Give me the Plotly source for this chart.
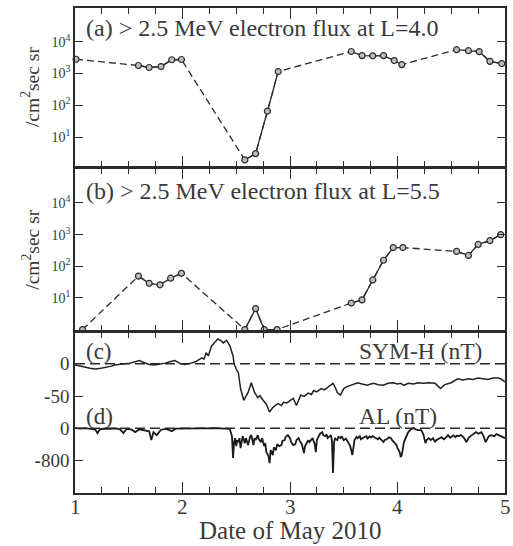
import plotly.graph_objects as go

# ---------------- data ----------------
# Panel (a): > 2.5 MeV electron flux at L=4.0  (/cm^2 sec sr)
flux_a_day = [1.01, 1.59, 1.69, 1.80, 1.90, 1.99, 2.58, 2.68, 2.79, 2.89,
              3.57, 3.67, 3.77, 3.87, 3.97, 4.04, 4.55, 4.66, 4.76, 4.86, 4.97]
flux_a_val = [2800, 1780, 1540, 1650, 2700, 2750, 1.9, 3.0, 65, 1150,
              4900, 3650, 3600, 3650, 2550, 1900, 5600, 5200, 4850, 2400, 2050]

# Panel (b): > 2.5 MeV electron flux at L=5.5
flux_b_day = [1.07, 1.59, 1.69, 1.79, 1.89, 1.99, 2.58, 2.68, 2.76, 2.88,
              3.57, 3.67, 3.77, 3.87, 3.96, 4.05, 4.55, 4.66, 4.75, 4.86, 4.96]
flux_b_val = [1.0, 49, 29, 26, 42, 60, 1.0, 4.6, 1.0, 1.0,
              6.9, 8.7, 37, 155, 390, 390, 295, 220, 490, 650, 1000]

# Panel (c): SYM-H (nT)  (day, value)
symh_obs = [
    (1.00, -2), (1.04, -3), (1.09, -5), (1.14, -7), (1.19, -8), (1.24, -7), (1.28, -6),
    (1.33, -4), (1.37, -2), (1.42, -1), (1.46, 0), (1.51, 1), (1.56, 3), (1.60, 5),
    (1.64, 2), (1.69, -1), (1.74, -2), (1.79, -1), (1.84, 1), (1.88, 3), (1.93, 5),
    (1.97, 1), (2.02, -1), (2.08, 1), (2.12, 3), (2.15, 6), (2.18, 9), (2.20, 7),
    (2.22, 17), (2.24, 12), (2.27, 27), (2.30, 33), (2.33, 38), (2.36, 35), (2.38, 32),
    (2.41, 36), (2.44, 28), (2.47, 12), (2.48, 0), (2.50, -8), (2.52, -14), (2.54, -38),
    (2.57, -56), (2.59, -50), (2.61, -44), (2.64, -29), (2.67, -44), (2.70, -52),
    (2.72, -49), (2.75, -56), (2.78, -62), (2.81, -74), (2.84, -67), (2.87, -63),
    (2.89, -61), (2.92, -64), (2.94, -59), (2.97, -60), (3.01, -56), (3.03, -53),
    (3.06, -64), (3.08, -55), (3.10, -48), (3.13, -50), (3.17, -45), (3.20, -47),
    (3.22, -41), (3.25, -43), (3.29, -38), (3.32, -40), (3.35, -36), (3.38, -33),
    (3.40, -30), (3.42, -36), (3.44, -44), (3.47, -48), (3.50, -38), (3.53, -35),
    (3.56, -33), (3.60, -31), (3.63, -29), (3.67, -31), (3.72, -33), (3.75, -31),
    (3.78, -30), (3.82, -32), (3.87, -33), (3.91, -30), (3.96, -29), (4.00, -31),
    (4.03, -30), (4.06, -33), (4.10, -30), (4.15, -31), (4.19, -29), (4.24, -30),
    (4.29, -29), (4.35, -30), (4.38, -34), (4.40, -38), (4.44, -32), (4.50, -29),
    (4.56, -23), (4.61, -25), (4.66, -23), (4.70, -24), (4.75, -22), (4.80, -23),
    (4.84, -24), (4.89, -22), (4.94, -22), (4.97, -24), (5.00, -28),
]

# Panel (d): AL (nT)  (day, value)
al_obs = [
    (1.00, 0), (1.05, -10), (1.10, 0), (1.15, -20), (1.19, -40), (1.21, -125), (1.23, -30),
    (1.28, -10), (1.33, -20), (1.38, -5), (1.42, -30), (1.45, -125), (1.48, -20),
    (1.53, -40), (1.56, -100), (1.60, -30), (1.65, -60), (1.69, -80), (1.71, -300),
    (1.73, -100), (1.76, -175), (1.80, -40), (1.85, -20), (1.90, -75), (1.94, -10),
    (2.00, -5), (2.10, 0), (2.20, -5), (2.30, 0), (2.40, -5), (2.44, -20), (2.46, -200),
    (2.47, -750), (2.48, -350), (2.49, -250), (2.50, -450), (2.51, -300), (2.52, -350),
    (2.53, -250), (2.54, -500), (2.55, -300), (2.56, -200), (2.58, -380), (2.59, -250),
    (2.61, -425), (2.62, -300), (2.63, -200), (2.64, -175), (2.65, -300), (2.66, -425),
    (2.67, -250), (2.68, -300), (2.70, -175), (2.71, -280), (2.73, -350), (2.74, -250),
    (2.76, -450), (2.77, -380), (2.78, -600), (2.80, -700), (2.81, -875), (2.82, -550),
    (2.83, -600), (2.84, -675), (2.85, -480), (2.87, -550), (2.88, -400), (2.90, -450),
    (2.92, -425), (2.93, -320), (2.95, -300), (2.96, -220), (2.98, -175), (3.00, -250),
    (3.01, -350), (3.03, -425), (3.05, -400), (3.06, -300), (3.08, -250), (3.09, -320),
    (3.11, -400), (3.13, -625), (3.14, -450), (3.15, -400), (3.17, -300), (3.18, -350),
    (3.20, -280), (3.21, -250), (3.23, -400), (3.24, -600), (3.25, -300), (3.27, -175),
    (3.28, -140), (3.30, -100), (3.31, -180), (3.33, -200), (3.34, -150), (3.35, -250),
    (3.37, -200), (3.38, -175), (3.39, -300), (3.40, -1125), (3.41, -350), (3.42, -260),
    (3.44, -300), (3.45, -220), (3.47, -250), (3.48, -200), (3.50, -300), (3.52, -260),
    (3.54, -350), (3.56, -450), (3.58, -675), (3.59, -400), (3.60, -300), (3.62, -220),
    (3.63, -250), (3.65, -200), (3.66, -280), (3.68, -240), (3.69, -225), (3.71, -200),
    (3.72, -260), (3.74, -210), (3.75, -230), (3.77, -200), (3.78, -225), (3.80, -250),
    (3.82, -280), (3.83, -240), (3.85, -300), (3.87, -350), (3.88, -300), (3.90, -280),
    (3.92, -230), (3.94, -250), (3.95, -300), (3.97, -350), (3.99, -420), (4.00, -500),
    (4.02, -600), (4.03, -725), (4.04, -675), (4.06, -350), (4.08, -200), (4.10, -100),
    (4.13, -20), (4.15, 0), (4.17, -30), (4.19, -50), (4.22, -50), (4.24, -150),
    (4.26, -375), (4.27, -300), (4.29, -250), (4.31, -300), (4.33, -250), (4.35, -350),
    (4.36, -300), (4.38, -280), (4.40, -240), (4.41, -225), (4.43, -280), (4.44, -260),
    (4.46, -200), (4.47, -175), (4.49, -240), (4.50, -220), (4.52, -180), (4.54, -225),
    (4.55, -190), (4.57, -200), (4.59, -175), (4.61, -220), (4.62, -250), (4.64, -350),
    (4.66, -250), (4.68, -200), (4.69, -175), (4.71, -150), (4.73, -100), (4.75, -140),
    (4.76, -120), (4.78, -100), (4.80, -200), (4.82, -350), (4.84, -250), (4.85, -200),
    (4.87, -175), (4.90, -200), (4.92, -150), (4.94, -175), (4.97, -220), (5.00, -250),
]

x_tick_vals = [1, 2, 3, 4, 5]
x_tick_text = ["1", "2", "3", "4", "5"]
log_tick_vals = [10, 100, 1000, 10000]
log_tick_text = ["10<sup>1</sup>", "10<sup>2</sup>", "10<sup>3</sup>", "10<sup>4</sup>"]
symh_tick_vals = [0, -50]
symh_tick_text = ["0", "<b>-</b>50"]
al_tick_vals = [0, -800]
al_tick_text = ["0", "<b>-</b>800"]

# ---------------- styling ----------------
FONT = "Liberation Serif, Times New Roman, serif"
INK = "#2b2b2b"
TXT = "#3a3a3a"
LW = 1.6

W, H = 513, 546
ML, MR, MT, MB = 75, 6, 7, 53
PW, PH = W - ML - MR, H - MT - MB


def py(p):
    """pixel row -> paper y"""
    return (H - MB - p) / PH


def px(p):
    """pixel column -> paper x"""
    return (p - ML) / PW


def solid_segments(days, vals, gap=0.3):
    xs, ys = [], []
    for i, (d, v) in enumerate(zip(days, vals)):
        if i > 0 and d - days[i - 1] > gap:
            xs.append(None)
            ys.append(None)
        xs.append(d)
        ys.append(v)
    return xs, ys


fig = go.Figure()

for days, vals, xa, ya in [(flux_a_day, flux_a_val, "x", "y"),
                           (flux_b_day, flux_b_val, "x2", "y2")]:
    fig.add_trace(go.Scatter(x=days, y=vals, mode="lines", xaxis=xa, yaxis=ya,
                             line=dict(color=INK, width=1.3, dash="7px,4px"),
                             cliponaxis=False, showlegend=False, hoverinfo="skip"))
    sx, sy = solid_segments(days, vals)
    fig.add_trace(go.Scatter(x=sx, y=sy, mode="lines", xaxis=xa, yaxis=ya,
                             line=dict(color=INK, width=1.3), connectgaps=False,
                             cliponaxis=False, showlegend=False, hoverinfo="skip"))
    fig.add_trace(go.Scatter(x=days, y=vals, mode="markers", xaxis=xa, yaxis=ya,
                             marker=dict(symbol="circle", size=6, color="#bdbdbd",
                                         line=dict(color=INK, width=1.2)),
                             cliponaxis=False, showlegend=False))

fig.add_trace(go.Scatter(x=[d for d, _ in symh_obs], y=[v for _, v in symh_obs],
                         mode="lines", xaxis="x3", yaxis="y3",
                         line=dict(color="#222222", width=1.5), showlegend=False))
fig.add_trace(go.Scatter(x=[d for d, _ in al_obs], y=[v for _, v in al_obs],
                         mode="lines", xaxis="x4", yaxis="y4",
                         line=dict(color="#1a1a1a", width=1.8), showlegend=False))

common_x = dict(range=[1, 5], showgrid=False, zeroline=False, showline=True,
                linecolor=INK, linewidth=LW, ticks="inside", ticklen=11, tickwidth=1.4,
                tickcolor=INK, tickvals=x_tick_vals, ticktext=x_tick_text,
                showticklabels=False,
                minor=dict(ticks="inside", ticklen=6, tickwidth=1.4, tickcolor=INK,
                           dtick=0.25, tick0=1, showgrid=False))
common_y = dict(showgrid=False, zeroline=False, showline=True, linecolor=INK,
                linewidth=LW, ticks="inside", ticklen=8, tickwidth=1.4, tickcolor=INK,
                mirror="ticks", tickfont=dict(family=FONT, size=14, color=TXT))

# axis lines are drawn outside the plot area, so leave a line-width gap
# between stacked panels to make the shared borders coincide
half = LW / 2
dom_a = [py(167 - half), 1.0]
dom_b = [py(331 - half), py(167 + half)]
dom_c = [py(416), py(331 + half)]
dom_d = [0.0, py(416)]

fig.update_layout(
    width=W, height=H,
    margin=dict(l=ML, r=MR, t=MT, b=MB),
    paper_bgcolor="white", plot_bgcolor="white",
    font=dict(family=FONT, color=TXT),
    xaxis=dict(common_x, anchor="y", mirror="ticks"),
    xaxis2=dict(common_x, anchor="y2", mirror="ticks"),
    xaxis3=dict(common_x, anchor="y3", side="top", mirror=False),
    xaxis4=dict(common_x, anchor="y4", side="bottom", mirror=False),
    yaxis=dict(common_y, type="log", range=[0.06, 5.06], domain=dom_a, anchor="x",
               tickvals=log_tick_vals, ticktext=log_tick_text),
    yaxis2=dict(common_y, type="log", range=[-0.03, 5.09], domain=dom_b, anchor="x2",
                tickvals=log_tick_vals, ticktext=log_tick_text),
    yaxis3=dict(common_y, range=[-80.3, 48.5], domain=dom_c, anchor="x3",
                tickvals=symh_tick_vals, ticktext=symh_tick_text,
                tickfont=dict(family=FONT, size=19, color=TXT)),
    yaxis4=dict(common_y, range=[-1625, 300], domain=dom_d, anchor="x4",
                tickvals=al_tick_vals, ticktext=al_tick_text,
                tickfont=dict(family=FONT, size=19, color=TXT)),
)

# dashed zero lines
for xa, ya in [("x3", "y3"), ("x4", "y4")]:
    fig.add_shape(type="line", xref=f"{xa} domain", yref=ya, x0=0, x1=1, y0=0, y1=0,
                  line=dict(color=INK, width=1.5, dash="10px,5px"), layer="below")

# x tick labels of the bottom axis, placed on the library's x scale
for v, t in zip(x_tick_vals, x_tick_text):
    fig.add_annotation(text=t, x=v, xref="x4", y=py(507), yref="paper",
                       xanchor="center", yanchor="middle", showarrow=False,
                       font=dict(family=FONT, size=21, color=TXT))

ann = [
    ("(a) &gt; 2.5 MeV electron flux at L=4.0", px(84), py(27), "left", 24),
    ("(b) &gt; 2.5 MeV electron flux at L=5.5", px(84), py(190), "left", 24),
    ("(c)", px(84), py(351), "left", 23),
    ("(d)", px(84), py(416), "left", 23),
    ("SYM-H (nT)", px(358), py(351), "left", 23.5),
    ("AL (nT)", px(358), py(416), "left", 23.5),
    ("Date of May 2010", 0.5 * (px(75) + px(507)), py(531), "center", 25),
]
for text, x, y, xanchor, size in ann:
    fig.add_annotation(text=text, x=x, y=y, xref="paper", yref="paper",
                       xanchor=xanchor, yanchor="middle", showarrow=False,
                       font=dict(family=FONT, size=size, color=TXT))

for yc in (86, 249):
    fig.add_annotation(text="/cm<sup>2</sup>sec sr", x=px(30), y=py(yc),
                       xref="paper", yref="paper", xanchor="center", yanchor="middle",
                       textangle=-90, showarrow=False,
                       font=dict(family=FONT, size=19.5, color=TXT))

fig.write_html("out.html",
               config={"displayModeBar": False},
               post_script="document.body.style.margin='0';document.body.style.padding='0';")
